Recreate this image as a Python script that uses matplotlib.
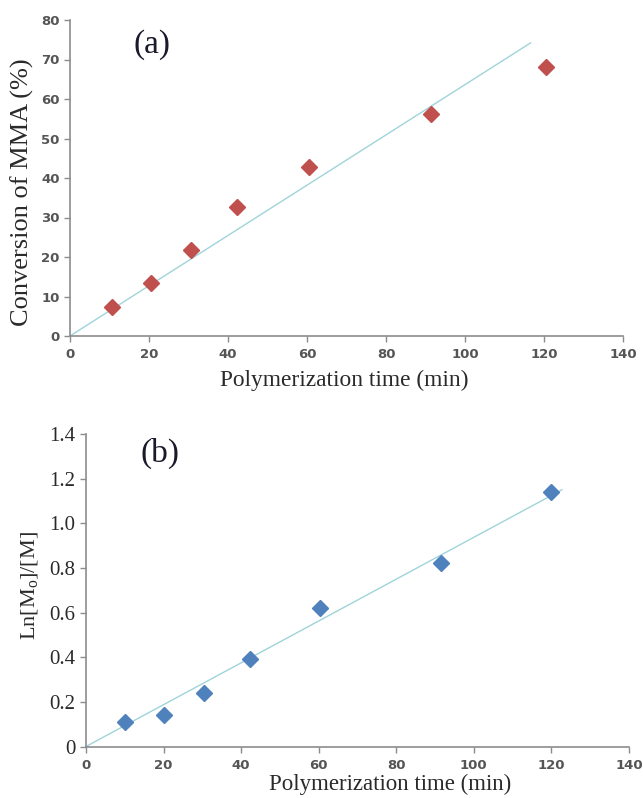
import matplotlib
matplotlib.use("Agg")
import matplotlib.pyplot as plt

plt.rcParams['mathtext.fontset'] = 'custom'
plt.rcParams['mathtext.rm'] = 'Liberation Serif'
plt.rcParams['mathtext.it'] = 'Liberation Serif:italic'

# Data
time_a = [10.6, 20.5, 30.7, 42.3, 60.6, 91.3, 120.4]
conversion = [7.3, 13.4, 21.8, 32.7, 42.8, 56.2, 68.1]
fit_a_x = [0, 116.6]
fit_a_y = [0, 74.2]

time_b = [10.1, 20.1, 30.5, 42.3, 60.3, 91.5, 120.0]
ln_ratio = [0.11, 0.14, 0.24, 0.39, 0.62, 0.82, 1.14]
fit_b_x = [0, 122.7]
fit_b_y = [0, 1.15]

x_ticks = [0, 20, 40, 60, 80, 100, 120, 140]
y_ticks_a = [0, 10, 20, 30, 40, 50, 60, 70, 80]
y_ticks_b = [0, 0.2, 0.4, 0.6, 0.8, 1.0, 1.2, 1.4]
y_ticklabels_b = ['0', '0.2', '0.4', '0.6', '0.8', '1.0', '1.2', '1.4']

W, H = 643, 798
fig = plt.figure(figsize=(W / 100, H / 100), dpi=100)

ax1 = fig.add_axes([70 / W, 1 - 336 / H, 553 / W, 316 / H])
ax2 = fig.add_axes([86 / W, 1 - 746.5 / H, 543 / W, 312.5 / H])

line_col = '#9fd4da'
spine_col = '#8c8c8c'
serif = 'Liberation Serif'
sans = 'DejaVu Sans'
text_col = '#2a2a2a'

for ax in (ax1, ax2):
    for s in ('top', 'right'):
        ax.spines[s].set_visible(False)
    for s in ('left', 'bottom'):
        ax.spines[s].set_color(spine_col)
        ax.spines[s].set_linewidth(1.2)
    ax.tick_params(direction='out', length=4, width=1, color=spine_col)
    ax.tick_params(axis='x', pad=5)
    ax.set_xlim(0, 140)
    ax.set_xticks(x_ticks)
    ax.set_xticklabels([str(t) for t in x_ticks], fontfamily=sans,
                       fontsize=9.5, color='#555555', fontweight='bold')

# (a)
ax1.plot(fit_a_x, fit_a_y, color=line_col, lw=1.0, zorder=2)
ax1.plot(time_a, conversion, linestyle='none', marker='D', markersize=8,
         color='#c0504d', zorder=3)
ax1.set_ylim(0, 80)
ax1.set_yticks(y_ticks_a)
ax1.set_yticklabels([str(t) for t in y_ticks_a], fontfamily=sans,
                    fontsize=9.5, color='#555555', fontweight='bold')
fig.text(344 / W, 1 - 380 / H, 'Polymerization time (min)', fontfamily=serif,
         fontsize=16.8, color=text_col, ha='center', va='center')
fig.text(22 / W, 1 - 192 / H, 'Conversion of MMA (%)', fontfamily=serif,
         fontsize=19, color=text_col, ha='center', va='center', rotation=90)
fig.text(152 / W, 1 - 45 / H, '(a)', fontfamily=serif, fontsize=24,
         color='#1a1a2a', ha='center', va='center')

# (b)
ax2.plot(fit_b_x, fit_b_y, color=line_col, lw=1.0, zorder=2)
ax2.plot(time_b, ln_ratio, linestyle='none', marker='D', markersize=8,
         color='#4f81bd', zorder=3)
ax2.set_ylim(0, 1.4)
ax2.set_yticks(y_ticks_b)
ax2.set_yticklabels(y_ticklabels_b, fontfamily=serif, fontsize=15,
                    color=text_col)
fig.text(390 / W, 1 - 784 / H, 'Polymerization time (min)', fontfamily=serif,
         fontsize=16.5, color=text_col, ha='center', va='center')
fig.text(30 / W, 1 - 586 / H, r'Ln[M$_{\mathrm{o}}$]/[M]', fontfamily=serif,
         fontsize=16, color=text_col, ha='center', va='center', rotation=90)
fig.text(160 / W, 1 - 453 / H, '(b)', fontfamily=serif, fontsize=24,
         color='#1a1a2a', ha='center', va='center')

fig.savefig('out.png', dpi=100)
